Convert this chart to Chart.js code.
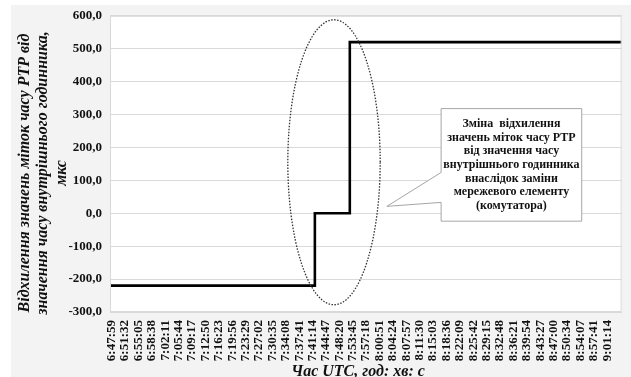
<!DOCTYPE html>
<html>
<head>
<meta charset="utf-8">
<script src="https://cdn.jsdelivr.net/npm/chart.js@4/dist/chart.umd.min.js"></script>
<style>
  html, body { margin: 0; padding: 0; background: #ffffff; }
  #wrap { position: relative; width: 631px; height: 377px; }
</style>
</head>
<body>
<div id="wrap"><canvas id="c" width="631" height="377"></canvas></div>
<script>
// ---- data ----
const timeLabels = ['6:47:59','6:51:32','6:55:05','6:58:38','7:02:11','7:05:44','7:09:17','7:12:50',
  '7:16:23','7:19:56','7:23:29','7:27:02','7:30:35','7:34:08','7:37:41','7:41:14','7:44:47','7:48:20',
  '7:53:45','7:57:18','8:00:51','8:04:24','8:07:57','8:11:30','8:15:03','8:18:36','8:22:09','8:25:42',
  '8:29:15','8:32:48','8:36:21','8:39:54','8:43:27','8:47:00','8:50:34','8:54:07','8:57:41','9:01:14'];
// deviation levels (мкс) and where (in label-index units) each change happens
const levels = [-220, 0, 520];
const changeAt = [15.17, 17.78];
const xStart = -0.13, xEnd = 38.08;
const yTicks = { min: -300, max: 600, step: 100 };

const yTitle = ['Відхилення значень міток часу РТР від', 'значення часу внутрішнього годинника,', 'мкс'];
const xTitle = 'Час UTC, год: хв: с';
const calloutLines = ['Зміна  відхилення', 'значень міток часу РТР', 'від значення часу',
  'внутрішнього годинника', 'внаслідок заміни', 'мережевого елементу', '(комутатора)'];

// build stepped series from the arrays
const bounds = [xStart, ...changeAt, xEnd];
const points = [];
levels.forEach((lv, i) => {
  points.push({ x: bounds[i], y: lv });
  points.push({ x: bounds[i + 1], y: lv });
});

const SERIF = "'Liberation Serif', 'Times New Roman', serif";

const decor = {
  id: 'decor',
  beforeDraw(chart) {
    const ctx = chart.ctx, a = chart.chartArea;
    ctx.save();
    ctx.fillStyle = '#f3f3f3';
    ctx.fillRect(11, 5, chart.width - 11, chart.height - 5);
    ctx.fillStyle = '#ffffff';
    ctx.fillRect(a.left, a.top, a.right - a.left, a.bottom - a.top);
    ctx.restore();
  },
  afterDraw(chart) {
    const ctx = chart.ctx, a = chart.chartArea;
    const xs = chart.scales.x, ys = chart.scales.y;
    ctx.save();
    // plot border
    ctx.strokeStyle = '#d9d9d9';
    ctx.lineWidth = 1;
    ctx.strokeRect(a.left + 0.5, a.top + 0.5, a.right - a.left - 1, a.bottom - a.top - 1);

    // dotted ellipse around the change
    const cx = xs.getPixelForValue(16.6), cy = ys.getPixelForValue(155);
    const rx = Math.abs(xs.getPixelForValue(16.6 + 3.45) - cx);
    const ry = Math.abs(ys.getPixelForValue(155 + 433) - cy);
    ctx.beginPath();
    ctx.ellipse(cx, cy, rx, ry, 0, 0, Math.PI * 2);
    ctx.setLineDash([1.5, 1.5]);
    ctx.strokeStyle = '#333';
    ctx.lineWidth = 1.3;
    ctx.stroke();
    ctx.setLineDash([]);

    // callout box with pointer
    const L = xs.getPixelForValue(24.6), R = xs.getPixelForValue(35.1);
    const T = ys.getPixelForValue(318), B = ys.getPixelForValue(-24);
    const tipX = xs.getPixelForValue(20.55), tipY = ys.getPixelForValue(21);
    const p1 = ys.getPixelForValue(124), p2 = ys.getPixelForValue(33);
    ctx.beginPath();
    ctx.moveTo(L, T); ctx.lineTo(R, T); ctx.lineTo(R, B); ctx.lineTo(L, B);
    ctx.lineTo(L, p2); ctx.lineTo(tipX, tipY); ctx.lineTo(L, p1); ctx.closePath();
    ctx.fillStyle = '#ffffff';
    ctx.fill();
    ctx.strokeStyle = '#a6a6a6';
    ctx.lineWidth = 1;
    ctx.stroke();
    ctx.fillStyle = '#111';
    ctx.font = 'bold 12px ' + SERIF;
    ctx.textAlign = 'center';
    ctx.textBaseline = 'middle';
    const midX = (L + R) / 2;
    const lh = 13.7;
    const startY = (T + B) / 2 - lh * (calloutLines.length - 1) / 2;
    calloutLines.forEach((t, i) => ctx.fillText(t, midX, startY + i * lh));

    // y title (rotated)
    ctx.save();
    ctx.translate(43, 173);
    ctx.rotate(-Math.PI / 2);
    ctx.font = 'italic bold 16px ' + SERIF;
    ctx.fillStyle = '#111';
    yTitle.forEach((t, i) => ctx.fillText(t, 0, (i - 1) * 18.5));
    ctx.restore();

    // x title
    ctx.font = 'italic bold 16px ' + SERIF;
    ctx.textBaseline = 'top';
    ctx.fillText(xTitle, 358, 364);
    ctx.restore();
  }
};

new Chart(document.getElementById('c'), {
  type: 'line',
  data: {
    datasets: [{
      data: points,
      borderColor: '#000000',
      borderWidth: 2.6,
      pointRadius: 0,
      fill: false,
      tension: 0
    }]
  },
  options: {
    responsive: false,
    animation: false,
    events: [],
    layout: { padding: { top: 14, right: 9, left: 0, bottom: 0 } },
    plugins: { legend: { display: false }, tooltip: { enabled: false } },
    scales: {
      x: {
        type: 'linear',
        min: xStart, max: xEnd,
        grid: { display: false, drawTicks: false },
        border: { display: true, color: '#d9d9d9' },
        afterBuildTicks: s => { s.ticks = timeLabels.map((_, i) => ({ value: i })); },
        afterFit: s => { s.height = 65; },
        ticks: {
          autoSkip: false,
          minRotation: 90, maxRotation: 90,
          padding: 8,
          color: '#111',
          font: { family: SERIF, size: 13, weight: 'bold' },
          callback: v => timeLabels[v]
        }
      },
      y: {
        min: yTicks.min, max: yTicks.max,
        grid: { color: '#d9d9d9', drawTicks: false },
        border: { display: false },
        afterFit: s => { s.width = 110; },
        ticks: {
          stepSize: yTicks.step,
          padding: 8,
          color: '#111',
          font: { family: SERIF, size: 13, weight: 'bold' },
          callback: v => v.toFixed(1).replace('.', ',')
        }
      }
    }
  },
  plugins: [decor]
});
</script>
</body>
</html>
